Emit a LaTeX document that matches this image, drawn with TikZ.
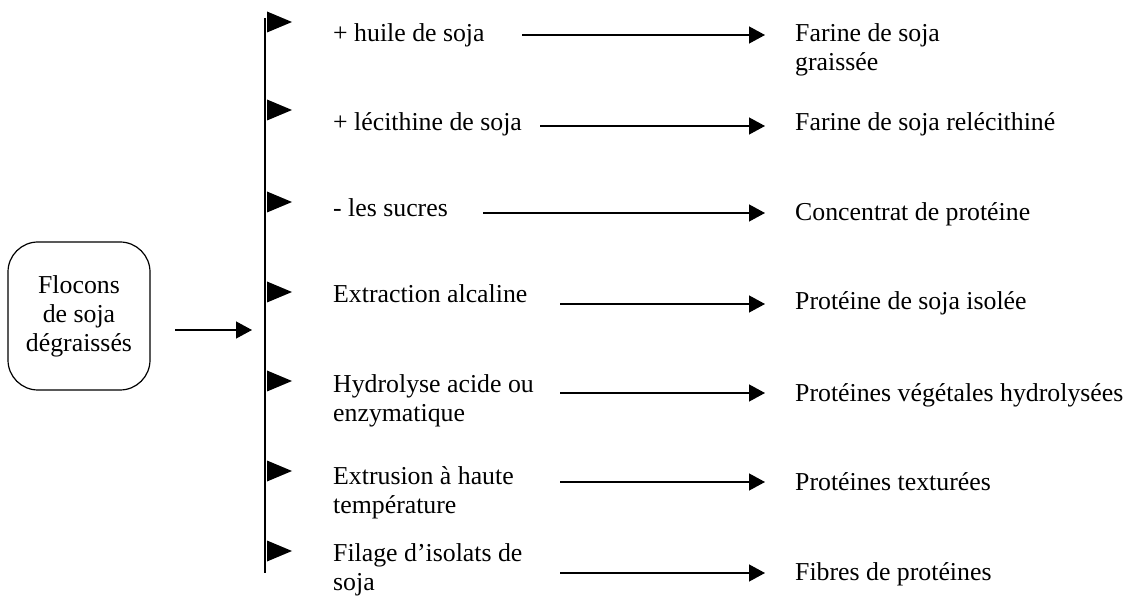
\documentclass[tikz,border=0pt]{standalone}
\usepackage{fontspec}
\setmainfont{Liberation Serif}
\usetikzlibrary{arrows.meta}
\begin{document}
\begin{tikzpicture}[x=1pt,y=-1pt,
  every node/.style={font=\fontsize{25.8}{29}\selectfont, inner sep=0pt},
  lbl/.style={anchor=base west, align=left},
  flow/.style={line width=1.3pt, -{Triangle[length=16pt,width=17pt]}},
  srcbox/.style={draw, line width=1.2pt, rounded corners=30pt, align=center,
    minimum width=142pt, minimum height=148pt},
  pics/flag/.style={code={\fill (0,-10.5) -- (25,0) -- (0,10.5) -- cycle;}}]
\useasboundingbox (0,0) rectangle (1130,601);

% source box and its arrow to the branch line
\node[srcbox] (src) at (79,316) {Flocons\\de soja\\dégraissés};
\coordinate (in1) at (175,330);
\coordinate (in2) at (252,330);
\draw[flow] (in1) -- (in2);

% branch line with its flags
\coordinate (btop) at (265,18);
\coordinate (bbot) at (265,573);
\draw[line width=1.5pt] (btop) -- (bbot);
\foreach \y in {22,110,202,292,381,471,551}
  \pic at (267,\y) {flag};

% treatments (multi-line labels are placed by their last baseline)
\node[lbl] (m1) at (333,42)  {+ huile de soja};
\node[lbl] (m2) at (333,131) {+ lécithine de soja};
\node[lbl] (m3) at (333,217) {- les sucres};
\node[lbl] (m4) at (333,303) {Extraction alcaline};
\node[lbl] (m5) at (333,422) {Hydrolyse acide ou\\enzymatique};
\node[lbl] (m6) at (333,513) {Extrusion à haute\\température};
\node[lbl] (m7) at (333,590) {Filage d’isolats de\\soja};

% products
\node[lbl] (p1) at (795,71)  {Farine de soja\\graissée};
\node[lbl] (p2) at (795,131) {Farine de soja relécithiné};
\node[lbl] (p3) at (795,221) {Concentrat de protéine};
\node[lbl] (p4) at (795,310) {Protéine de soja isolée};
\node[lbl] (p5) at (795,402) {Protéines végétales hydrolysées};
\node[lbl] (p6) at (795,490) {Protéines texturées};
\node[lbl] (p7) at (795,580) {Fibres de protéines};

% treatment -> product arrows
\foreach \i/\xs/\y in {1/522/35, 2/540/126, 3/483/213, 4/560/304,
                       5/560/393, 6/560/482, 7/560/573} {
  \coordinate (s\i) at (\xs,\y);
  \coordinate (e\i) at (765,\y);
  \draw[flow] (s\i) -- (e\i);
}
\end{tikzpicture}
\end{document}
